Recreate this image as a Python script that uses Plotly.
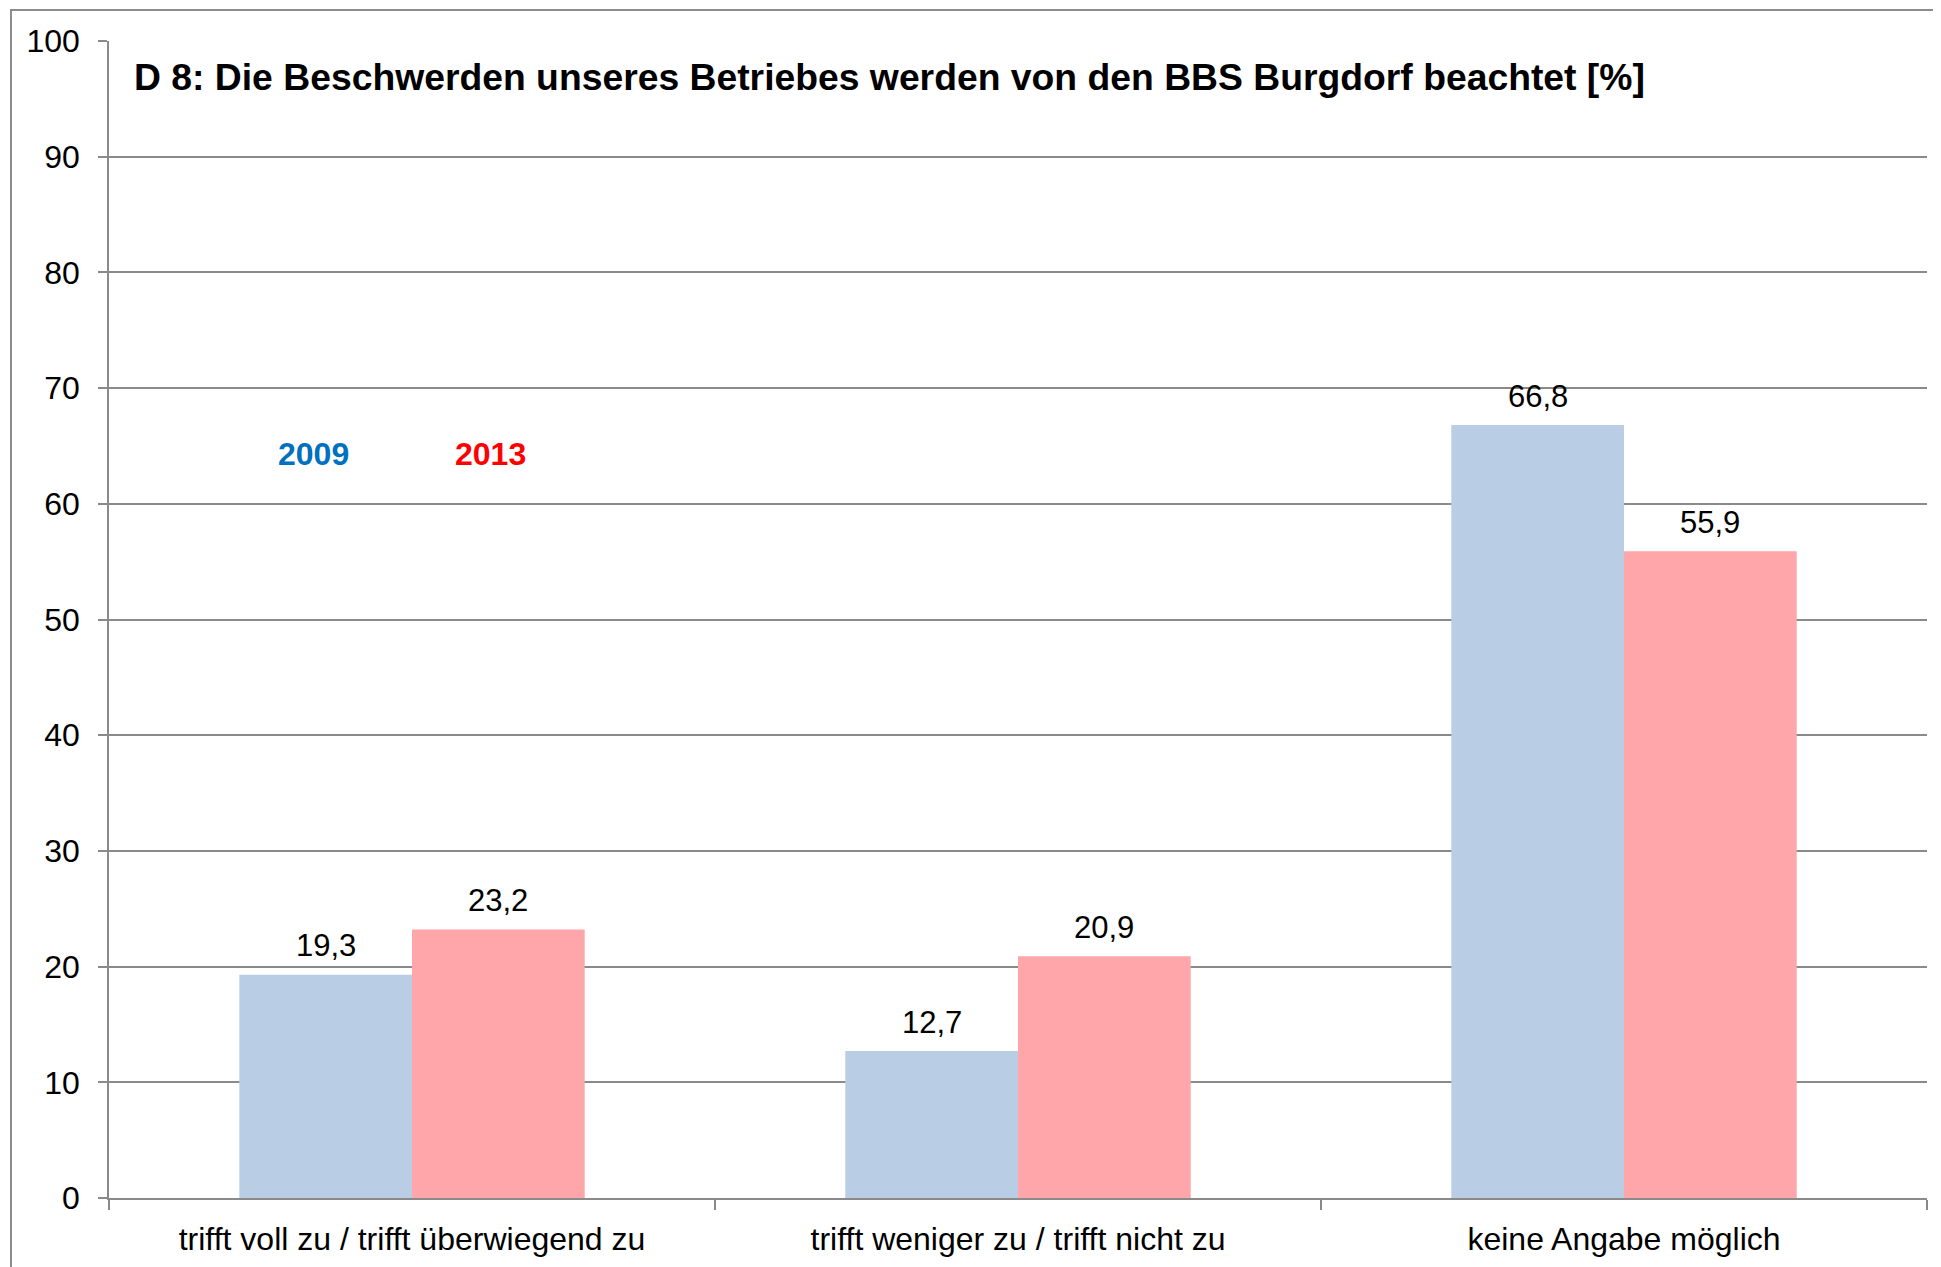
import plotly.graph_objects as go

categories = ["trifft voll zu / trifft überwiegend zu", "trifft weniger zu / trifft nicht zu", "keine Angabe möglich"]
values_2009 = [19.3, 12.7, 66.8]
values_2013 = [23.2, 20.9, 55.9]
labels_2009 = ["19,3", "12,7", "66,8"]
labels_2013 = ["23,2", "20,9", "55,9"]
series_names = ["2009", "2013"]
title_text = "D 8: Die Beschwerden unseres Betriebes werden von den BBS Burgdorf beachtet [%]"

FONT = "Liberation Sans, Arial, sans-serif"
GRID = "#8A8A8A"

fig = go.Figure()
fig.add_trace(go.Bar(x=categories, y=values_2009, name=series_names[0],
                     marker=dict(color="#B9CDE5", line=dict(width=0))))
fig.add_trace(go.Bar(x=categories, y=values_2013, name=series_names[1],
                     marker=dict(color="#FFA6AA", line=dict(width=0))))

W, H = 1941, 1267
OFF = 8  # page body margin
ml, mr, mt, mb = 109 - OFF, 14 + OFF, 41 - OFF, 69 + OFF
pw = W - ml - mr
ph = H - mt - mb
cat_w = pw / len(categories)
bargap = 0.43
bar_w = cat_w * (1 - bargap) / 2

annotations = []
for c, v, t in zip(categories, values_2009, labels_2009):
    annotations.append(dict(x=c, y=v, text=t, showarrow=False, xshift=-bar_w / 2, yshift=29,
                            xanchor="center", yanchor="middle",
                            font=dict(size=31, color="#000000", family=FONT)))
for c, v, t in zip(categories, values_2013, labels_2013):
    annotations.append(dict(x=c, y=v, text=t, showarrow=False, xshift=bar_w / 2, yshift=29,
                            xanchor="center", yanchor="middle",
                            font=dict(size=31, color="#000000", family=FONT)))

annotations.append(dict(xref="paper", yref="paper", x=(132 - 109) / pw, y=(1198 - 77) / ph,
                        xanchor="left", yanchor="middle", showarrow=False,
                        text="<b>" + title_text + "</b>",
                        font=dict(size=37.3, color="#000000", family=FONT)))
annotations.append(dict(xref="paper", yref="y", x=(313 - 109) / pw, y=64.3, showarrow=False,
                        xanchor="center", yanchor="middle",
                        text="<b>" + series_names[0] + "</b>",
                        font=dict(size=32, color="#0070C0", family=FONT)))
annotations.append(dict(xref="paper", yref="y", x=(490 - 109) / pw, y=64.3, showarrow=False,
                        xanchor="center", yanchor="middle",
                        text="<b>" + series_names[1] + "</b>",
                        font=dict(size=32, color="#FF0000", family=FONT)))

fig.update_layout(
    width=W, height=H,
    margin=dict(l=ml, r=mr, t=mt, b=mb, pad=0),
    paper_bgcolor="white", plot_bgcolor="white",
    barmode="group", bargap=bargap, bargroupgap=0,
    showlegend=False,
    font=dict(family=FONT, size=32, color="#000000"),
    annotations=annotations,
    shapes=[dict(type="rect", xref="paper", yref="paper",
                 x0=(11 - 109) / pw, x1=1.05, y0=-0.2, y1=1 + (41 - 10) / ph,
                 line=dict(color="#8C8C8C", width=2), fillcolor="rgba(0,0,0,0)", layer="below")],
)
fig.update_yaxes(range=[0, 100], dtick=10, tick0=0, showgrid=True, gridcolor=GRID, gridwidth=1.5,
                 showline=True, linecolor=GRID, linewidth=1.5, ticks="outside", ticklen=9,
                 tickcolor=GRID, tickwidth=1.5, ticklabelstandoff=12,
                 tickfont=dict(size=32, family=FONT, color="#000000"), zeroline=False, fixedrange=True)
fig.update_xaxes(showline=True, linecolor=GRID, linewidth=1.5, ticks="outside", ticklen=10,
                 tickson="boundaries", tickcolor=GRID, tickwidth=1.5, ticklabelstandoff=12,
                 tickfont=dict(size=32, family=FONT, color="#000000"), showgrid=False, fixedrange=True)

fig.write_html("out.html")
